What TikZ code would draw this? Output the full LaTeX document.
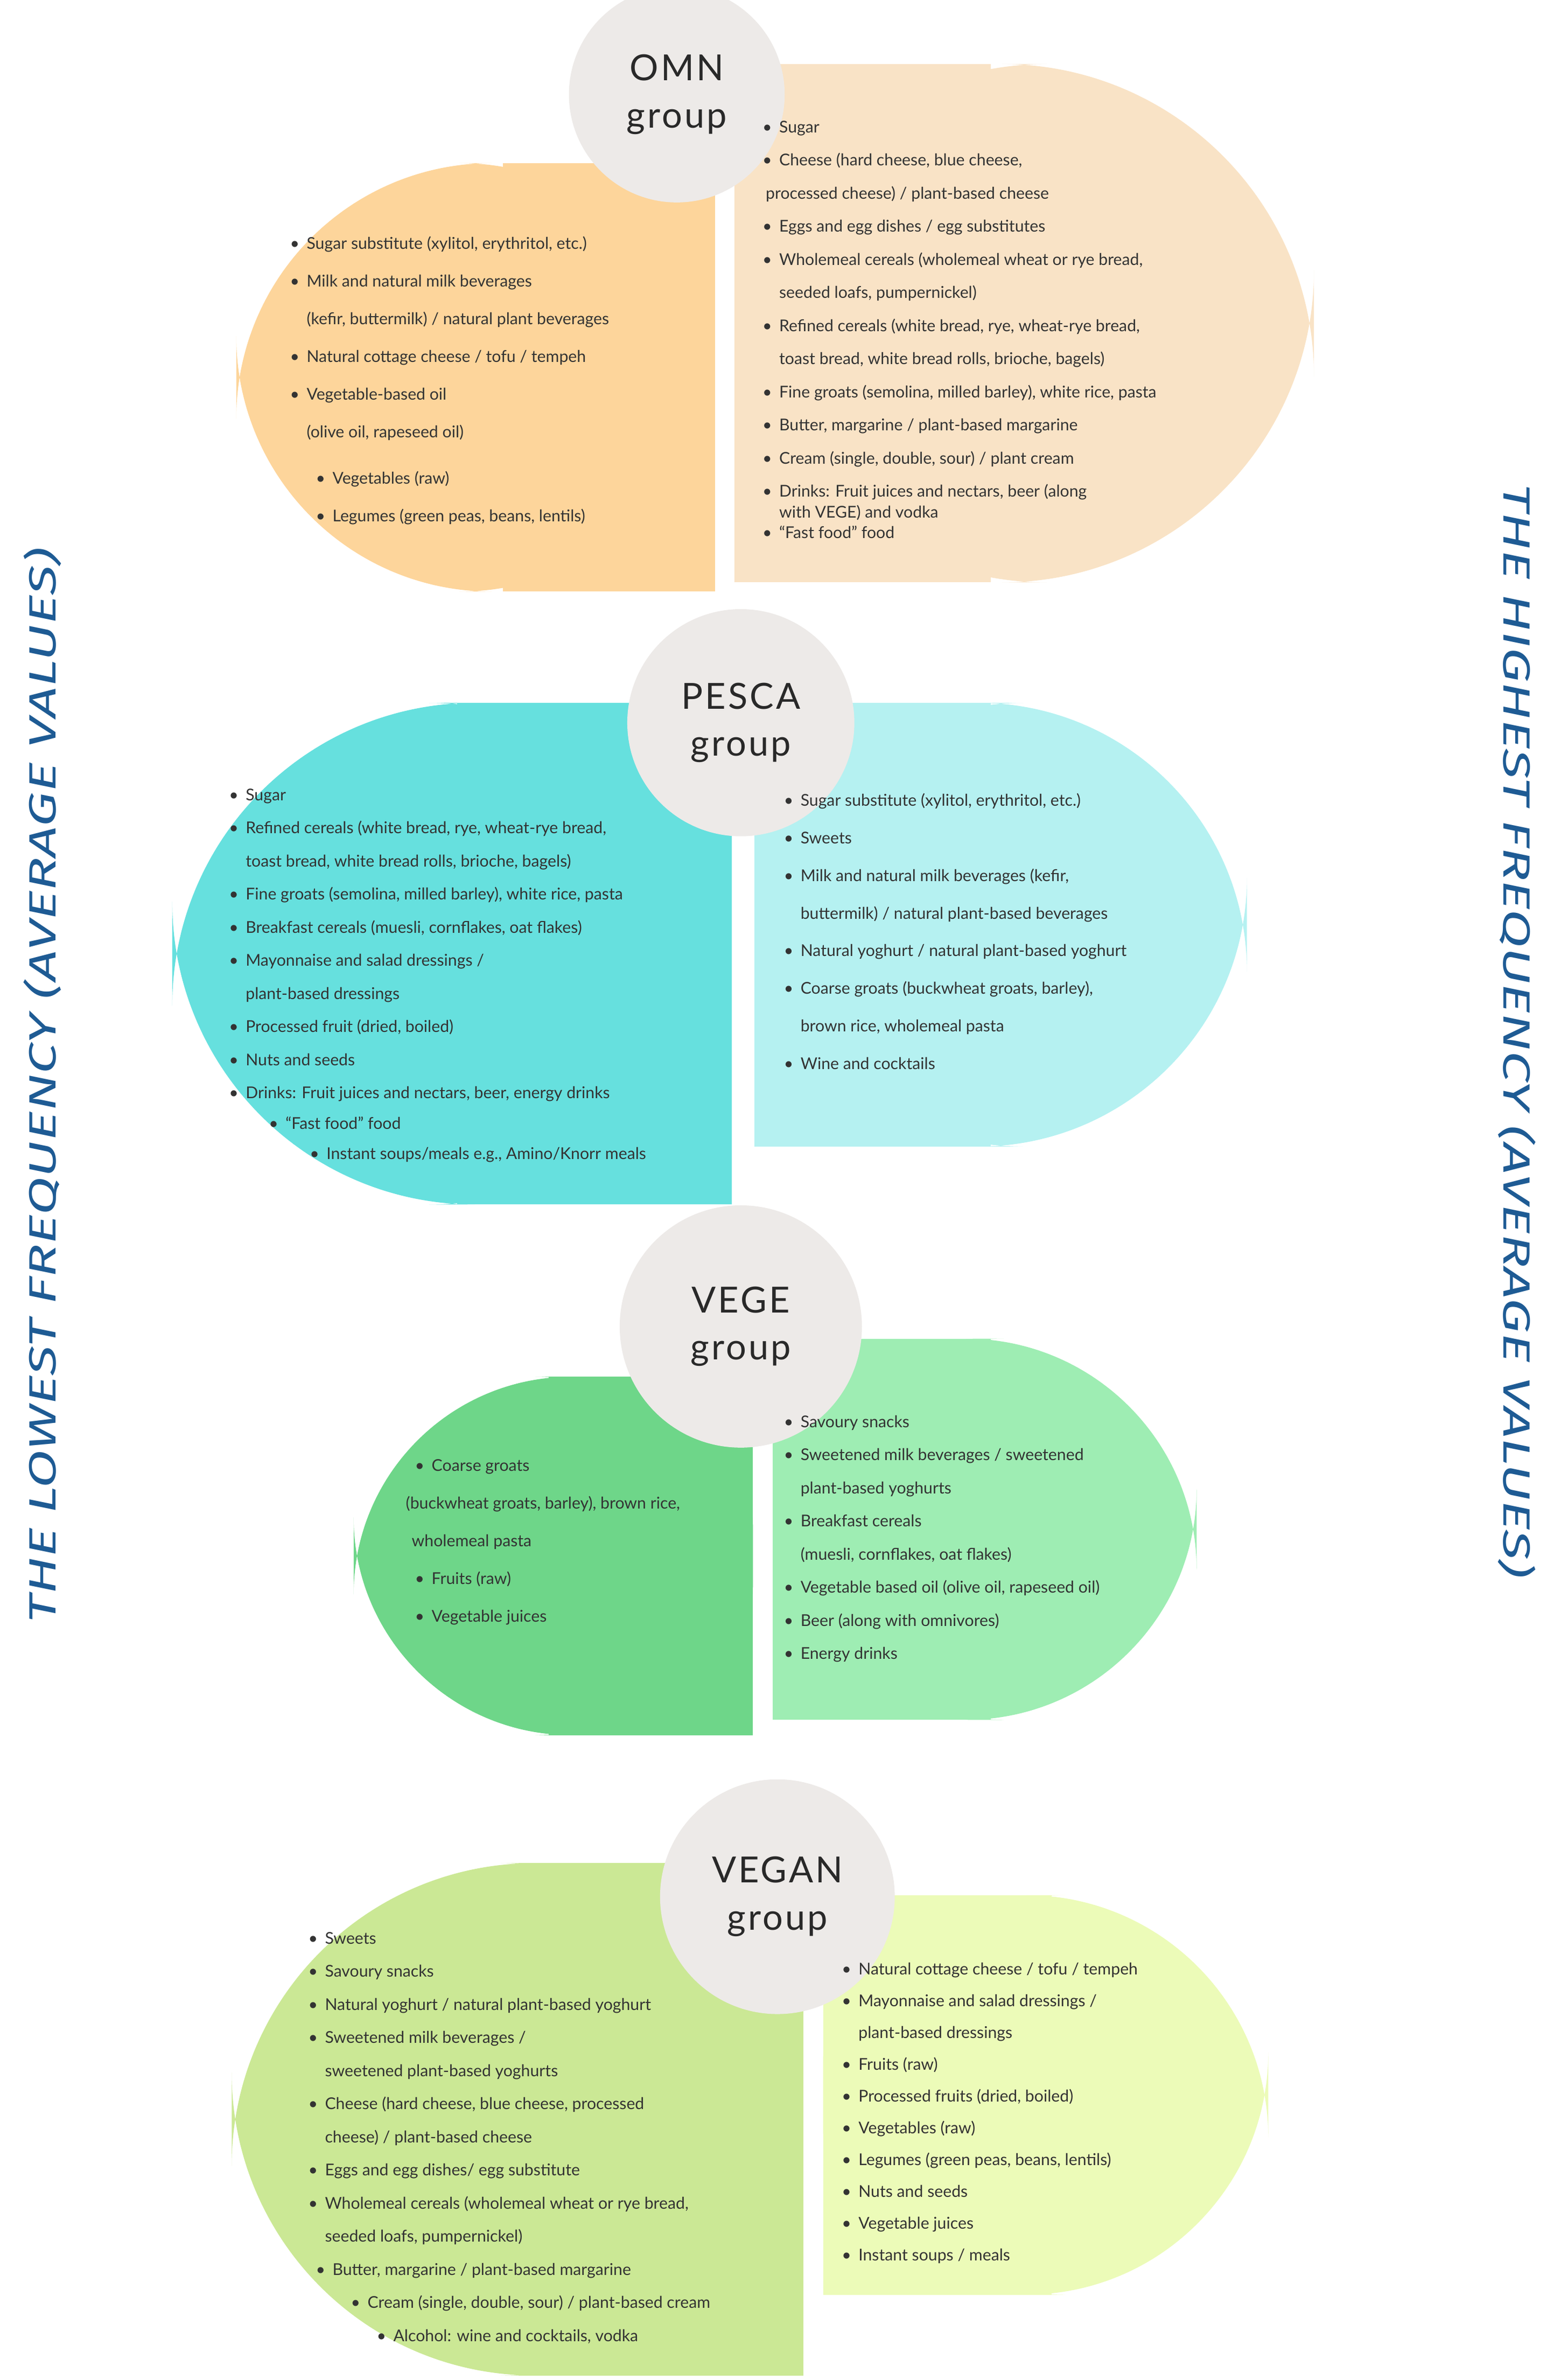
\documentclass[tikz,border=0pt]{standalone}
\usepackage{fontspec}
\setmainfont{Lato}
\newfontfamily\sidefont{Fira Sans Italic}
\newfontfamily\circfont[LetterSpace=6]{Lato}
\definecolor{omnL}{HTML}{FDD59B}
\definecolor{omnR}{HTML}{F9E3C6}
\definecolor{pesL}{HTML}{66E0DE}
\definecolor{pesR}{HTML}{B5F1F1}
\definecolor{vegL}{HTML}{6ED689}
\definecolor{vegR}{HTML}{9EEDB3}
\definecolor{vgnL}{HTML}{CBE895}
\definecolor{vgnR}{HTML}{ECFBB8}
\definecolor{circ}{HTML}{EDEAE8}
\definecolor{sideblue}{HTML}{1E5B94}
\definecolor{txt}{HTML}{333333}
\newcommand\bl{\makebox[3.1mm][l]{\textbullet}}
\newcommand\cl{\hspace*{3.1mm}}
\tikzset{
  listA/.style={anchor=north west,inner sep=0pt,align=left,text=txt,font=\fontsize{8.6}{19.9}\selectfont},
  listB/.style={anchor=north west,inner sep=0pt,align=left,text=txt,font=\fontsize{8.6}{17.5}\selectfont},
  grp/.style={circle,fill=circ,align=center,text=txt!80!black,font=\circfont\fontsize{19}{25}\selectfont,inner sep=0pt},
  side/.style={text=sideblue,inner sep=0pt}
}
\begin{document}
\begin{tikzpicture}[x=0.2831mm,y=-0.2831mm]
\useasboundingbox (0,0) rectangle (1024,1561);
% OMN
\fill[omnL,rounded corners=135] (155,107) rectangle (469,388);
\fill[omnL] (330,107) rectangle (469,388);
\fill[omnR,rounded corners=165] (482,42) rectangle (862,382);
\fill[omnR] (482,42) rectangle (650,382);
\node[grp,minimum size=114] (omn) at (444,62) {OMN\\group};
% PESCA
\fill[pesL,rounded corners=160] (113,461) rectangle (480,790);
\fill[pesL] (300,461) rectangle (480,790);
\fill[pesR,rounded corners=142] (495,461) rectangle (818,752);
\fill[pesR] (495,461) rectangle (650,752);
\node[grp,minimum size=120] (pesca) at (486,474) {PESCA\\group};
% VEGE
\fill[vegL,rounded corners=115] (232,903) rectangle (494,1138);
\fill[vegL] (360,903) rectangle (494,1138);
\fill[vegR,rounded corners=122] (507,878) rectangle (785,1128);
\fill[vegR] (507,878) rectangle (650,1128);
\node[grp,minimum size=128] (vege) at (486,870) {VEGE\\group};
% VEGAN
\fill[vgnL,rounded corners=160] (152,1222) rectangle (527,1558);
\fill[vgnL] (340,1222) rectangle (527,1558);
\fill[vgnR,rounded corners=128] (540,1243) rectangle (832,1505);
\fill[vgnR] (540,1243) rectangle (690,1505);
\node[grp,minimum size=124] (vegan) at (510,1244) {VEGAN\\group};
% side texts
\node[side,rotate=90] (low) at (28,712) {\resizebox*{199.6mm}{7mm}{\sidefont THE LOWEST FREQUENCY (AVERAGE VALUES)}};
\node[side,rotate=-90] (high) at (995,676) {\resizebox*{203mm}{7mm}{\sidefont THE HIGHEST FREQUENCY (AVERAGE VALUES)}};
% lists
\node[listA] (omnl) at (190,155) {\bl Sugar substitute (xylitol, erythritol, etc.)\\
\bl Milk and natural milk beverages\\
\cl(kefir, buttermilk) / natural plant beverages\\
\bl Natural cottage cheese / tofu / tempeh\\
\bl Vegetable-based oil\\
\cl(olive oil, rapeseed oil)\\[1.6mm]
\hspace*{4.8mm}\bl Vegetables (raw)\\
\hspace*{4.8mm}\bl Legumes (green peas, beans, lentils)};
\node[listB] (omnr) at (500,79) {\bl Sugar\\
\bl Cheese (hard cheese, blue cheese,\\
\hspace*{0.6mm}processed cheese) / plant-based cheese\\
\bl Eggs and egg dishes / egg substitutes\\
\bl Wholemeal cereals (wholemeal wheat or rye bread,\\
\cl seeded loafs, pumpernickel)\\
\bl Refined cereals (white bread, rye, wheat-rye bread,\\
\cl toast bread, white bread rolls, brioche, bagels)\\
\bl Fine groats (semolina, milled barley), white rice, pasta\\
\bl Butter, margarine / plant-based margarine\\
\bl Cream (single, double, sour) / plant cream\\
\bl Drinks: Fruit juices and nectars, beer (along\\[-2.3mm]
\cl with VEGE) and vodka\\[-2.3mm]
\bl ``Fast food'' food};
\node[listB] (pesl) at (150,517) {\bl Sugar\\
\bl Refined cereals (white bread, rye, wheat-rye bread,\\
\cl toast bread, white bread rolls, brioche, bagels)\\
\bl Fine groats (semolina, milled barley), white rice, pasta\\
\bl Breakfast cereals (muesli, cornflakes, oat flakes)\\
\bl Mayonnaise and salad dressings /\\
\cl plant-based dressings\\
\bl Processed fruit (dried, boiled)\\
\bl Nuts and seeds\\
\bl Drinks: Fruit juices and nectars, beer, energy drinks\\[-0.5mm]
\hspace*{7.4mm}\bl ``Fast food'' food\\[-0.5mm]
\hspace*{15mm}\bl Instant soups/meals e.g., Amino/Knorr meals};
\node[listA] (pesr) at (514,520) {\bl Sugar substitute (xylitol, erythritol, etc.)\\
\bl Sweets\\
\bl Milk and natural milk beverages (kefir,\\
\cl buttermilk) / natural plant-based beverages\\
\bl Natural yoghurt / natural plant-based yoghurt\\
\bl Coarse groats (buckwheat groats, barley),\\
\cl brown rice, wholemeal pasta\\
\bl Wine and cocktails};
\node[listA] (vegl) at (266,957) {\hspace*{1.7mm}\bl Coarse groats\\
(buckwheat groats, barley), brown rice,\\
\hspace*{1.1mm}wholemeal pasta\\
\hspace*{1.7mm}\bl Fruits (raw)\\
\hspace*{1.7mm}\bl Vegetable juices};
\node[listB] (vegr) at (514,928) {\bl Savoury snacks\\
\bl Sweetened milk beverages / sweetened\\
\cl plant-based yoghurts\\
\bl Breakfast cereals\\
\cl(muesli, cornflakes, oat flakes)\\
\bl Vegetable based oil (olive oil, rapeseed oil)\\
\bl Beer (along with omnivores)\\
\bl Energy drinks};
\node[listB] (vgnl) at (202,1267) {\bl Sweets\\
\bl Savoury snacks\\
\bl Natural yoghurt / natural plant-based yoghurt\\
\bl Sweetened milk beverages /\\
\cl sweetened plant-based yoghurts\\
\bl Cheese (hard cheese, blue cheese, processed\\
\cl cheese) / plant-based cheese\\
\bl Eggs and egg dishes/ egg substitute\\
\bl Wholemeal cereals (wholemeal wheat or rye bread,\\
\cl seeded loafs, pumpernickel)\\
\hspace*{1.4mm}\bl Butter, margarine / plant-based margarine\\
\hspace*{7.9mm}\bl Cream (single, double, sour) / plant-based cream\\
\hspace*{12.7mm}\bl Alcohol: wine and cocktails, vodka};
\node[listB,font=\fontsize{8.6}{16.8}\selectfont] (vgnr) at (552,1287) {\bl Natural cottage cheese / tofu / tempeh\\
\bl Mayonnaise and salad dressings /\\
\cl plant-based dressings\\
\bl Fruits (raw)\\
\bl Processed fruits (dried, boiled)\\
\bl Vegetables (raw)\\
\bl Legumes (green peas, beans, lentils)\\
\bl Nuts and seeds\\
\bl Vegetable juices\\
\bl Instant soups / meals};
\end{tikzpicture}
\end{document}
